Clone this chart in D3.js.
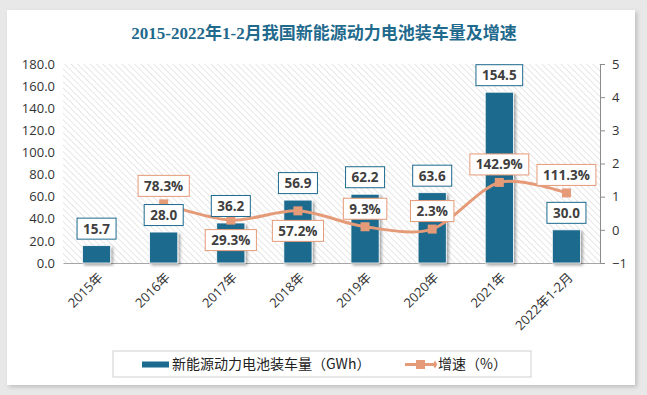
<!DOCTYPE html>
<html>
<head>
<meta charset="utf-8">
<script src="https://cdn.jsdelivr.net/npm/d3@7"></script>
<style>
  body { margin: 0; background: #e8e8e8; }
  svg { display: block; }
  text { font-family: "Open Sans", "Noto Sans CJK SC", sans-serif; }
</style>
</head>
<body>
<svg width="647" height="395"></svg>
<script>
// data
var categories = ["2015年", "2016年", "2017年", "2018年", "2019年", "2020年", "2021年", "2022年1-2月"];
var volume = [15.7, 28.0, 36.2, 56.9, 62.2, 63.6, 154.5, 30.0];      // GWh
var growth = [null, 78.3, 29.3, 57.2, 9.3, 2.3, 142.9, 111.3];       // %
var growthLabelPos = [null, "up", "down", "down", "up", "up", "up", "up"];
var leftTicks = [0, 20, 40, 60, 80, 100, 120, 140, 160, 180];
var rightTicks = [-1, 0, 1, 2, 3, 4, 5];

var blue = "#1c6a8e", orange = "#e59a78";

var svg = d3.select("svg");
var defs = svg.append("defs");

// card shadow + bar shadow
var f = defs.append("filter").attr("id", "cardShadow").attr("x", "-5%").attr("y", "-5%").attr("width", "110%").attr("height", "110%");
f.append("feDropShadow").attr("dx", 2).attr("dy", 2).attr("stdDeviation", 2).attr("flood-color", "#000").attr("flood-opacity", 0.18);
var bf = defs.append("filter").attr("id", "barShadow").attr("x", "-30%").attr("y", "-10%").attr("width", "160%").attr("height", "130%");
bf.append("feDropShadow").attr("dx", 2).attr("dy", 2).attr("stdDeviation", 1.5).attr("flood-color", "#000").attr("flood-opacity", 0.35);

// hatch pattern for plot area
var pat = defs.append("pattern").attr("id", "hatch")
  .attr("patternUnits", "userSpaceOnUse").attr("width", 4.5).attr("height", 4.5)
  .attr("patternTransform", "rotate(-45)");
pat.append("line").attr("x1", 0).attr("y1", 0).attr("x2", 0).attr("y2", 4.5)
  .attr("stroke", "#d6d6d6").attr("stroke-width", 1.2);

// white card
svg.append("rect").attr("x", 7).attr("y", 10).attr("width", 628).attr("height", 375)
  .attr("fill", "#fff").attr("filter", "url(#cardShadow)");

// title
svg.append("text").attr("x", 324).attr("y", 39).attr("text-anchor", "middle")
  .attr("fill", "#1f6a8d").style("font-size", "17px").style("font-weight", "bold")
  .style("font-family", "'Liberation Serif', 'Noto Sans CJK SC', serif")
  .text("2015-2022年1-2月我国新能源动力电池装车量及增速");

var plot = { left: 63, right: 600, top: 64, bottom: 263 };

var x = d3.scaleBand().domain(categories).range([plot.left, plot.right]).padding(0);
var y = d3.scaleLinear().domain([0, 180]).range([plot.bottom, plot.top]);
var y2 = d3.scaleLinear().domain([-1, 5]).range([plot.bottom, plot.top]);

svg.append("rect").attr("x", plot.left).attr("y", plot.top)
  .attr("width", plot.right - plot.left).attr("height", plot.bottom - plot.top)
  .attr("fill", "url(#hatch)");

// left axis (labels only)
var gl = svg.append("g").attr("transform", "translate(" + plot.left + ",0)")
  .call(d3.axisLeft(y).tickValues(leftTicks).tickFormat(d3.format(".1f")).tickSize(0).tickPadding(8));
gl.select(".domain").remove();
gl.selectAll("text").attr("fill", "#333").style("font-size", "13px");

// right axis
var gr = svg.append("g").attr("transform", "translate(" + plot.right + ",0)")
  .call(d3.axisRight(y2).tickValues(rightTicks).tickFormat(d3.format("d")).tickSize(5).tickPadding(7));
gr.select(".domain").attr("stroke", "#8c8c8c");
gr.selectAll(".tick line").attr("stroke", "#8c8c8c");
gr.selectAll("text").attr("fill", "#333").style("font-size", "13px");

// x axis baseline + rotated labels
var gx = svg.append("g").attr("transform", "translate(0," + plot.bottom + ")")
  .call(d3.axisBottom(x).tickSize(0).tickPadding(0));
gx.select(".domain").attr("stroke", "#a6a6a6");
gx.selectAll("text")
  .attr("text-anchor", "end").attr("fill", "#333").style("font-size", "13px")
  .attr("transform", "translate(4,12) rotate(-45)").attr("dy", "0.35em");

// bars
var bw = x.bandwidth() * 0.42;
svg.append("g").selectAll("rect").data(volume).enter().append("rect")
  .attr("x", function(d, i) { return x(categories[i]) + (x.bandwidth() - bw) / 2; })
  .attr("y", function(d) { return y(d); })
  .attr("width", bw)
  .attr("height", function(d) { return plot.bottom - y(d); })
  .attr("fill", blue).attr("stroke", "#fff").attr("stroke-width", 0.8)
  .attr("filter", "url(#barShadow)");

// growth line
var pts = growth.map(function(d, i) { return d == null ? null : [x(categories[i]) + x.bandwidth() / 2, y2(d / 100)]; })
  .filter(function(p) { return p; });
svg.append("path").datum(pts)
  .attr("d", d3.line().curve(d3.curveCardinal.tension(0.1)))
  .attr("fill", "none").attr("stroke", orange).attr("stroke-width", 3);
svg.append("g").selectAll("rect").data(pts).enter().append("rect")
  .attr("x", function(p) { return p[0] - 4.5; }).attr("y", function(p) { return p[1] - 4.5; })
  .attr("width", 9).attr("height", 9).attr("fill", orange);

// label boxes
function labelBox(cx, cy, txt, border) {
  var g = svg.append("g");
  var r = g.append("rect");
  var t = g.append("text").attr("x", cx).attr("y", cy).attr("dy", "0.36em")
    .attr("text-anchor", "middle").attr("fill", "#404040")
    .style("font-size", "13.5px").style("font-weight", "bold").text(txt);
  var w = t.node().getComputedTextLength() + 12;
  r.attr("x", cx - w / 2).attr("y", cy - 10.5).attr("width", w).attr("height", 21)
    .attr("fill", "#fff").attr("stroke", border).attr("stroke-width", 1);
}

volume.forEach(function(d, i) {
  labelBox(x(categories[i]) + x.bandwidth() / 2, y(d) - 17, d3.format(".1f")(d), blue);
});
growth.forEach(function(d, i) {
  if (d == null) return;
  var cy = y2(d / 100) + (growthLabelPos[i] === "up" ? -18 : 20);
  labelBox(x(categories[i]) + x.bandwidth() / 2, cy, d3.format(".1f")(d) + "%", orange);
});

// legend
var lg = svg.append("g");
lg.append("rect").attr("x", 113).attr("y", 351).attr("width", 418).attr("height", 26)
  .attr("fill", "#fff").attr("stroke", "#d0d0d0");
lg.append("rect").attr("x", 142).attr("y", 361.5).attr("width", 27).attr("height", 6).attr("fill", blue);
lg.append("text").attr("x", 172).attr("y", 364.5).attr("dy", "0.35em").attr("fill", "#222")
  .style("font-size", "14px").style("font-family", "'Noto Sans CJK SC', sans-serif")
  .text("新能源动力电池装车量（GWh）");
lg.append("line").attr("x1", 405).attr("x2", 435).attr("y1", 364.5).attr("y2", 364.5)
  .attr("stroke", orange).attr("stroke-width", 3);
lg.append("rect").attr("x", 416).attr("y", 360).attr("width", 9).attr("height", 9).attr("fill", orange);
lg.append("path").attr("d", d3.symbol().type(d3.symbolDiamond).size(18)).attr("transform", "translate(435,364.5)").attr("fill", orange);
lg.append("text").attr("x", 438).attr("y", 364.5).attr("dy", "0.35em").attr("fill", "#222")
  .style("font-size", "14px").style("font-family", "'Noto Sans CJK SC', sans-serif")
  .text("增速（%）");
</script>
</body>
</html>
